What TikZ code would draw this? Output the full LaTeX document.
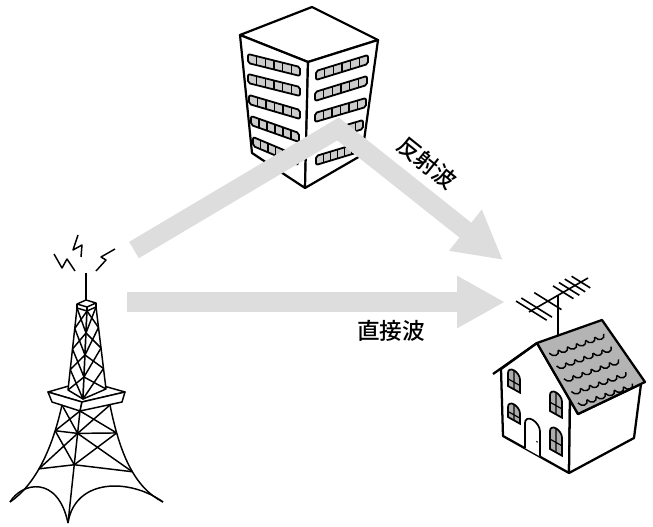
\documentclass[tikz,border=0pt]{standalone}
\usepackage{fontspec}
\newfontfamily\jpfont{Noto Sans CJK JP Medium}
\usetikzlibrary{arrows.meta,calc}

\definecolor{raygray}{HTML}{DDDDDD}
\definecolor{cellgray}{HTML}{CCCCCC}
\definecolor{roofgray}{HTML}{B4B4B4}
\definecolor{panegray}{HTML}{ADADAD}

\tikzset{
  ray/.style={draw=raygray, line width=14.25pt, line join=miter,
    -{Triangle[width=36.75pt, length=36pt]}},
  lbl/.style={font=\jpfont\fontsize{17}{20}\selectfont, inner sep=0pt},
  bldg/.style={line width=1.65pt, line join=round, fill=white},
  win/.style={line width=1.35pt, fill=cellgray, rounded corners=1.5pt},
  cell/.style={line width=0.9pt},
  tw/.style={line width=1.1pt, line join=round},
  hse/.style={line width=1.7pt, line join=round},
  hwin/.style={line width=1.3pt, fill=panegray},
  mull/.style={line width=0.9pt},
  shingle/.style={line width=1.1pt},
  ant/.style={line width=1.2pt}
}

\begin{document}
\begin{tikzpicture}[x=0.75pt, y=-0.75pt]
\useasboundingbox (0,0) rectangle (653,527);

% office block
\coordinate (bT) at (312,7);
\coordinate (bL) at (240,35);
\coordinate (bR) at (378,40);
\coordinate (bF) at (308,62);
\coordinate (bLB) at (252,153);
\coordinate (bFB) at (305,188);
\coordinate (bRB) at (362,155);
\draw[bldg] (bL) -- (bT) -- (bR) -- (bF) -- cycle;
\draw[bldg] (bL) -- (bF) -- (bFB) -- (bLB) -- cycle;
\draw[bldg] (bF) -- (bR) -- (bRB) -- (bFB) -- cycle;
\foreach \ax/\ay/\bx/\by in {248/54/300/67, 248/74/300/87, 249/95/300/110,
    251/116/299/133, 253/137/298/156, 316/71/368/55, 315/92/367/76,
    315/113/366/98, 316/134/363/120, 316/156/359/143}
{
  \draw[win] (\ax,\ay) -- (\bx,\by) -- (\bx,\by+9) -- (\ax,\ay+9) -- cycle;
  \foreach \k in {1,...,5}
    \draw[cell] ($(\ax,\ay)!\k/6!(\bx,\by)$) -- ($(\ax,\ay+9)!\k/6!(\bx,\by+9)$);
}

% waves
\coordinate (emit1) at (134,250);
\coordinate (bounce) at (338,129);
\coordinate (recv1) at (503,260);
\coordinate (emit2) at (127,302);
\coordinate (recv2) at (505,302);
\draw[ray] (emit1) -- (bounce) -- (recv1);
\draw[ray] (emit2) -- (recv2);
\node[lbl, rotate=-38.7] (reflbl) at (427,163) {反射波};
\node[lbl] (dirlbl) at (391,331) {直接波};

% transmitter tower
\draw[tw] (78,235) -- (73,250) -- (82,245) -- (81,257);
\draw[tw] (54,254) -- (62,268) -- (67,259) -- (75,271);
\draw[tw] (115,249) -- (101,257) -- (106,260) -- (96,271);
\draw[tw] (86,273) -- (86,300);
% platform
\draw[tw, fill=white] (48,392) -- (86,381) -- (125,392) -- (82,402) -- cycle;
\draw[tw, fill=white] (48,392) -- (82,402) -- (80,411) -- (52,402) -- cycle;
\draw[tw, fill=white] (82,402) -- (125,392) -- (122,402) -- (80,411) -- cycle;
% upper shaft
\coordinate (sLT) at (77,308);
\coordinate (sCT) at (87,311);
\coordinate (sRT) at (96,307);
\coordinate (sLB) at (68,390);
\coordinate (sCB) at (83,399);
\coordinate (sRB) at (106,389);
\draw[tw, fill=white] (sLT) -- (sCT) -- (sCB) -- (sLB) -- cycle;
\draw[tw, fill=white] (sCT) -- (sRT) -- (sRB) -- (sCB) -- cycle;
\draw[tw, fill=white] (77,304) -- (86,300) -- (96,303) -- (87,307) -- cycle;
\draw[tw] (77,304) -- (sLT) (87,307) -- (sCT) (96,303) -- (sRT);
\foreach \a/\b in {0/0.25, 0.25/0.5, 0.5/0.75, 0.75/1}
{
  \draw[tw] ($(sLT)!\a!(sLB)$) -- ($(sCT)!\b!(sCB)$);
  \draw[tw] ($(sCT)!\a!(sCB)$) -- ($(sLT)!\b!(sLB)$);
  \draw[tw] ($(sCT)!\a!(sCB)$) -- ($(sRT)!\b!(sRB)$);
  \draw[tw] ($(sRT)!\a!(sRB)$) -- ($(sCT)!\b!(sCB)$);
}
% legs
\draw[tw] (62,405) .. controls (52,450) and (35,485) .. (10,502)
  coordinate[pos=0.2] (lL1) coordinate[pos=0.55] (lL2);
\draw[tw] (80,411) -- (68,523)
  coordinate[pos=0.2] (lC1) coordinate[pos=0.48] (lC2);
\draw[tw] (110,405) .. controls (120,455) and (135,488) .. (163,502)
  coordinate[pos=0.2] (lR1) coordinate[pos=0.55] (lR2);
\draw[tw] (lL1) -- (lC1) -- (lR1);
\draw[tw] (lL2) -- (lC2) -- (lR2);
\draw[tw] (62,405) -- (lC1) (80,411) -- (lL1) (80,411) -- (lR1) (110,405) -- (lC1);
\draw[tw] (lL1) -- (lC2) (lC1) -- (lL2) (lC1) -- (lR2) (lR1) -- (lC2);
\draw[tw] (10,502) .. controls (22,482) and (58,475) .. (68,523);
\draw[tw] (68,523) .. controls (75,478) and (130,478) .. (163,502);

% house with aerial
\coordinate (bm1) at (529,312);
\coordinate (bm2) at (588,278);
\draw[ant] (558,295) -- (558,336);
\draw[ant] (bm1) -- (bm2);
\foreach \t/\h in {0.04/18, 0.13/18, 0.32/16, 0.58/12, 0.68/12, 0.78/12, 0.88/11}
  \draw[ant] ($(bm1)!\t!(bm2)+(-0.85*\h,-0.53*\h)$) -- ($(bm1)!\t!(bm2)+(0.85*\h,0.53*\h)$);

\coordinate (hP) at (537,343);
\coordinate (hTL) at (501,369);
\coordinate (hBL) at (503,436);
\coordinate (hC) at (570,400);
\coordinate (hFB) at (569,473);
\coordinate (hRB) at (634,438);
\coordinate (hRT) at (641,384);
\coordinate (rB) at (602,320);
\coordinate (rC) at (645,382);
\coordinate (rD) at (578,414);
\draw[hse, fill=white] (hBL) -- (hTL) -- (hP) -- (hC) -- (hFB) -- cycle;
\draw[hse, fill=white] (hC) -- (rD) -- (hRT) -- (hRB) -- (hFB) -- cycle;
\draw[hse] (493,374) -- (hP);
\draw[hse, fill=roofgray] (hP) -- (rB) -- (rC) -- (rD) -- cycle;
\begin{scope}[shift={(hP)}, x={(48.75pt,17.25pt)}, y={(30.75pt,-53.25pt)}]
  \foreach \v in {0.17,0.35,0.53,0.71,0.87}
    \foreach \i in {0,...,5}
      \draw[shingle] (0.08+0.14*\i,\v) .. controls (0.1+0.14*\i,\v+0.07)
        and (0.2+0.14*\i,\v+0.07) .. (0.22+0.14*\i,\v);
\end{scope}
\foreach \wx/\wy/\wh in {508/386/13, 508/417/10, 550/411/16, 550/449/18}
{
  \begin{scope}[shift={(\wx,\wy)}, yslant=-0.56]
    \draw[hwin] (0,0) -- (0,-\wh) arc[start angle=180, end angle=0, radius=4.5pt] -- (12,0) -- cycle;
    \draw[mull] (6,0) -- (6,-\wh-6) (0,-\wh*0.55) -- (12,-\wh*0.55);
  \end{scope}
}
\begin{scope}[shift={(525,448)}, yslant=-0.56]
  \draw[hwin, fill=white] (0,0) -- (0,-25) arc[start angle=180, end angle=0, radius=5.625pt] -- (15,0);
  \fill (12,-13) circle[radius=0.7pt];
\end{scope}
\end{tikzpicture}
\end{document}
